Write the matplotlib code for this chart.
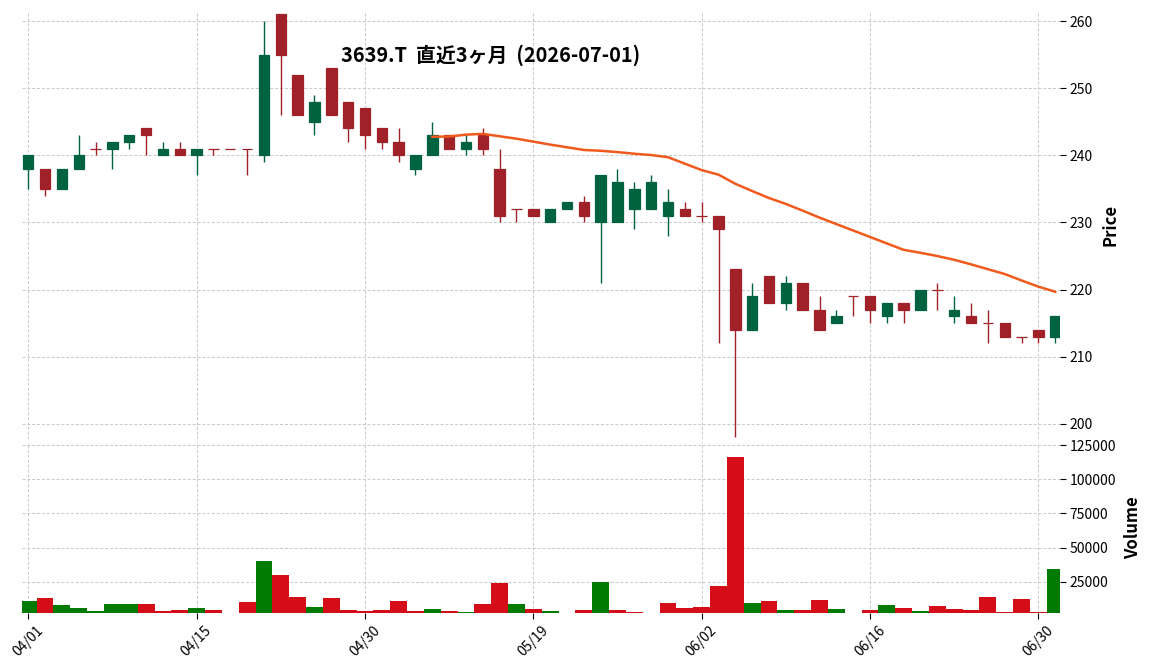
import numpy as np
import matplotlib
matplotlib.use("Agg")
import matplotlib.pyplot as plt

plt.rcParams['font.family'] = ['Noto Sans CJK JP', 'DejaVu Sans']

dates = [
    "2026-04-01", "2026-04-02", "2026-04-03", "2026-04-06", "2026-04-07", "2026-04-08", "2026-04-09",
    "2026-04-10", "2026-04-13", "2026-04-14", "2026-04-15", "2026-04-16", "2026-04-17", "2026-04-20",
    "2026-04-21", "2026-04-22", "2026-04-23", "2026-04-24", "2026-04-27", "2026-04-28", "2026-04-30",
    "2026-05-01", "2026-05-07", "2026-05-08", "2026-05-11", "2026-05-12", "2026-05-13", "2026-05-14",
    "2026-05-15", "2026-05-18", "2026-05-19", "2026-05-20", "2026-05-21", "2026-05-22", "2026-05-25",
    "2026-05-26", "2026-05-27", "2026-05-28", "2026-05-29", "2026-06-01", "2026-06-02", "2026-06-03",
    "2026-06-04", "2026-06-05", "2026-06-08", "2026-06-09", "2026-06-10", "2026-06-11", "2026-06-12",
    "2026-06-15", "2026-06-16", "2026-06-17", "2026-06-18", "2026-06-19", "2026-06-22", "2026-06-23",
    "2026-06-24", "2026-06-25", "2026-06-26", "2026-06-29", "2026-06-30", "2026-07-01",
]

opens = [238, 238, 235, 238, 241, 241, 242, 244, 240, 241, 240, 241, 241, 241, 240, 261,
         252, 245, 253, 248, 247, 244, 242, 238, 240, 243, 241, 243, 238, 232, 232, 230,
         232, 233, 230, 230, 232, 232, 231, 232, 231, 231, 223, 214, 222, 218, 221, 217,
         215, 219, 219, 216, 218, 217, 220, 216, 216, 215, 215, 213, 214, 213]
highs = [240, 238, 238, 243, 242, 242, 243, 244, 242, 242, 241, 241, 241, 241, 260, 261,
         252, 249, 253, 248, 247, 244, 244, 240, 245, 243, 243, 244, 241, 232, 232, 232,
         233, 234, 237, 238, 236, 237, 235, 233, 233, 231, 223, 221, 222, 222, 221, 219,
         217, 219, 219, 218, 218, 220, 221, 219, 218, 217, 215, 213, 214, 216]
lows = [235, 234, 235, 238, 240, 238, 241, 240, 240, 240, 237, 240, 241, 237, 239, 246,
        246, 243, 246, 242, 241, 241, 239, 237, 240, 241, 240, 240, 230, 230, 231, 230,
        232, 230, 221, 230, 229, 232, 228, 231, 230, 212, 198, 214, 218, 217, 217, 214,
        215, 216, 215, 215, 215, 217, 217, 215, 215, 212, 213, 212, 212, 212]
closes = [240, 235, 238, 240, 241, 242, 243, 243, 241, 240, 241, 241, 241, 241, 255, 255,
          246, 248, 246, 244, 243, 242, 240, 240, 243, 241, 242, 241, 231, 232, 231, 232,
          233, 231, 237, 236, 235, 236, 233, 231, 231, 229, 214, 219, 218, 221, 217, 214,
          216, 219, 217, 218, 217, 220, 220, 217, 215, 215, 213, 213, 213, 216]
volumes = [10500, 12700, 7600, 5400, 3200, 8300, 8300, 8300, 3200, 3900, 5400, 3900, np.nan, 9800,
           40000, 29700, 13500, 6100, 12700, 3900, 3200, 3900, 10500, 3200, 4700, 3200, 2500, 8300,
           23800, 8300, 4700, 3200, np.nan, 3900, 24800, 3900, 2500, np.nan, 9100, 5400, 6100, 21600,
           116400, 9100, 10500, 3900, 3900, 11300, 4700, np.nan, 3900, 7600, 5400, 3200, 6900, 4700,
           3900, 13500, 2500, 12000, 2500, 34100]

title = "3639.T  直近3ヶ月  (2026-07-01)"
mav_window = 25

UP, DOWN = '#006340', '#A02128'
VUP, VDOWN = '#007a00', '#d50d18'
MA_COLOR = '#f05a1c'
GRID = '#c8c8c8'

o = np.array(opens, float); h = np.array(highs, float)
l = np.array(lows, float); c = np.array(closes, float)
v = np.array(volumes, float)
x = np.arange(len(dates))

fig = plt.figure(figsize=(11.52, 6.70), dpi=100)
ax = fig.add_axes([0.0191, 0.3448, 0.9010, 0.6388])
axv = fig.add_axes([0.0191, 0.0851, 0.9010, 0.2556], sharex=ax)

# candles
cols = [UP if cc > oo else DOWN for oo, cc in zip(o, c)]
ax.vlines(x, l, h, colors=cols, linewidth=1.0, zorder=3)
ax.bar(x, np.abs(c - o), bottom=np.minimum(o, c), width=0.62, color=cols,
       edgecolor=cols, linewidth=0.9, zorder=4)

# moving average
ma = np.convolve(c, np.ones(mav_window) / mav_window, mode='valid')
ax.plot(x[mav_window - 1:], ma, color=MA_COLOR, linewidth=1.8, zorder=5)

# volume
diff = np.diff(c, prepend=c[0] - 1)
vcols = [VUP if d > 0 else VDOWN for d in diff]
axv.bar(x, np.nan_to_num(v), width=1.0, color=vcols, linewidth=0, zorder=3)

ax.set_xlim(-0.37, 61.28)
ax.set_ylim(197.75, 261.5)
axv.set_ylim(1900, 127700)

ticks = list(range(0, len(dates), 10))
axv.set_xticks(ticks)
axv.set_xticklabels([dates[i][5:].replace('-', '/') for i in ticks], rotation=45, fontsize=10)
plt.setp(ax.get_xticklabels(), visible=False)
ax.tick_params(axis='x', length=0)

ax.set_yticks(range(200, 261, 10))
axv.set_yticks([25000, 50000, 75000, 100000, 125000])
axv.set_yticklabels(['25000', '50000', '75000', '100000', '125000'])

for a in (ax, axv):
    for s in a.spines.values():
        s.set_visible(False)
    a.yaxis.tick_right()
    a.yaxis.set_label_position('right')
    a.tick_params(axis='y', labelsize=10, length=4, pad=3, direction='out')
    a.grid(True, linestyle=(0, (3, 2)), color=GRID, linewidth=0.7, zorder=0)
    a.set_axisbelow(True)
axv.tick_params(axis='x', length=4, labelsize=10)

ax.set_ylabel('Price', fontsize=12, fontweight='bold', labelpad=6)
axv.set_ylabel('Volume', fontsize=12, fontweight='bold', labelpad=6)

fig.text(0.426, 0.918, title, ha='center', va='center', fontsize=14.3, fontweight='bold')

fig.savefig('out.png', dpi=100)
